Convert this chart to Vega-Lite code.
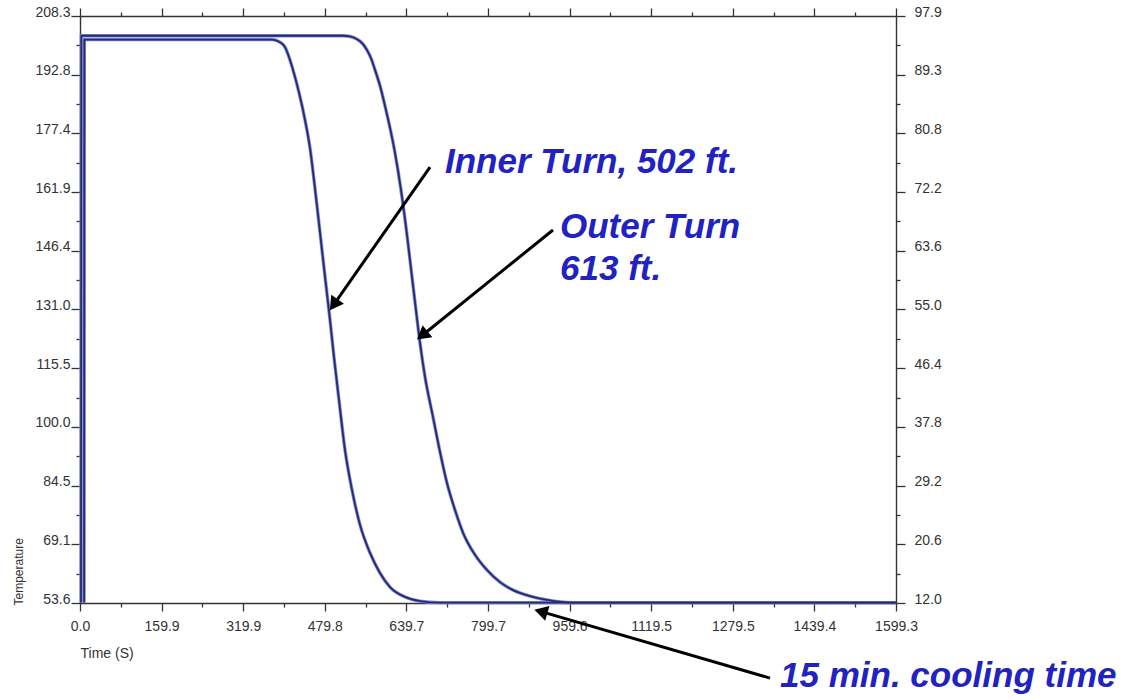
{
  "$schema": "https://vega.github.io/schema/vega-lite/v6.json",
  "width": 816,
  "height": 587,
  "autosize": {"type": "none"},
  "padding": {"left": 80, "top": 16, "right": 227, "bottom": 97},
  "background": "white",
  "config": {
    "view": {"stroke": null},
    "axis": {
      "labelFont": "Liberation Sans",
      "labelFontSize": 14,
      "labelColor": "#333333",
      "titleFont": "Liberation Sans",
      "titleFontWeight": "normal",
      "titleColor": "#333333",
      "domainColor": "#333333",
      "domainWidth": 1.4,
      "tickColor": "#333333",
      "tickWidth": 1.3,
      "grid": false
    }
  },
  "datasets": {
    "curves": [
      {"series": "Inner", "t": 8, "T": 53.7},
      {"series": "Inner", "t": 8.5, "T": 202.1},
      {"series": "Inner", "t": 200, "T": 202.1},
      {"series": "Inner", "t": 376.3, "T": 202.1},
      {"series": "Inner", "t": 392.0, "T": 201.4},
      {"series": "Inner", "t": 401.8, "T": 200.1},
      {"series": "Inner", "t": 409.6, "T": 197.5},
      {"series": "Inner", "t": 421.4, "T": 192.2},
      {"series": "Inner", "t": 431.2, "T": 187.0},
      {"series": "Inner", "t": 441.0, "T": 180.9},
      {"series": "Inner", "t": 450.8, "T": 173.5},
      {"series": "Inner", "t": 458.6, "T": 165.1},
      {"series": "Inner", "t": 466.5, "T": 155.9},
      {"series": "Inner", "t": 474.3, "T": 146.6},
      {"series": "Inner", "t": 482.1, "T": 137.4},
      {"series": "Inner", "t": 490.0, "T": 128.2},
      {"series": "Inner", "t": 497.8, "T": 118.4},
      {"series": "Inner", "t": 507.6, "T": 107.1},
      {"series": "Inner", "t": 519.4, "T": 93.9},
      {"series": "Inner", "t": 533.1, "T": 83.4},
      {"series": "Inner", "t": 548.8, "T": 74.2},
      {"series": "Inner", "t": 568.4, "T": 66.8},
      {"series": "Inner", "t": 588.0, "T": 61.5},
      {"series": "Inner", "t": 607.6, "T": 57.8},
      {"series": "Inner", "t": 637.0, "T": 55.2},
      {"series": "Inner", "t": 666.4, "T": 54.1},
      {"series": "Inner", "t": 705.6, "T": 53.7},
      {"series": "Inner", "t": 1000, "T": 53.7},
      {"series": "Inner", "t": 1599.3, "T": 53.7},
      {"series": "Outer", "t": 2, "T": 53.7},
      {"series": "Outer", "t": 2.5, "T": 203.1},
      {"series": "Outer", "t": 300, "T": 203.1},
      {"series": "Outer", "t": 515.5, "T": 203.1},
      {"series": "Outer", "t": 529.2, "T": 202.9},
      {"series": "Outer", "t": 542.9, "T": 202.2},
      {"series": "Outer", "t": 554.7, "T": 200.9},
      {"series": "Outer", "t": 562.5, "T": 199.3},
      {"series": "Outer", "t": 570.3, "T": 197.2},
      {"series": "Outer", "t": 578.2, "T": 194.1},
      {"series": "Outer", "t": 588.0, "T": 189.9},
      {"series": "Outer", "t": 597.8, "T": 184.6},
      {"series": "Outer", "t": 607.6, "T": 178.8},
      {"series": "Outer", "t": 617.4, "T": 172.2},
      {"series": "Outer", "t": 629.2, "T": 162.4},
      {"series": "Outer", "t": 640.9, "T": 150.6},
      {"series": "Outer", "t": 650.7, "T": 139.5},
      {"series": "Outer", "t": 658.5, "T": 130.8},
      {"series": "Outer", "t": 666.4, "T": 122.1},
      {"series": "Outer", "t": 676.2, "T": 113.2},
      {"series": "Outer", "t": 691.9, "T": 102.6},
      {"series": "Outer", "t": 705.6, "T": 93.4},
      {"series": "Outer", "t": 719.3, "T": 85.2},
      {"series": "Outer", "t": 735.0, "T": 78.1},
      {"series": "Outer", "t": 750.7, "T": 72.1},
      {"series": "Outer", "t": 774.2, "T": 66.3},
      {"series": "Outer", "t": 797.7, "T": 62.3},
      {"series": "Outer", "t": 823.2, "T": 59.1},
      {"series": "Outer", "t": 848.7, "T": 57.0},
      {"series": "Outer", "t": 882.0, "T": 55.4},
      {"series": "Outer", "t": 915.3, "T": 54.4},
      {"series": "Outer", "t": 966.3, "T": 53.7},
      {"series": "Outer", "t": 1200, "T": 53.7},
      {"series": "Outer", "t": 1599.3, "T": 53.7}
    ],
    "arrows": [
      {"id": "inner", "t1": 686, "T1": 168.5, "t2": 499.8, "T2": 132.7},
      {"id": "outer", "t1": 927, "T1": 151.9, "t2": 674.2, "T2": 124.5},
      {"id": "cool", "t1": 1352.4, "T1": 33.8, "t2": 907.5, "T2": 51.2}
    ],
    "labels": [
      {"text": "Inner Turn, 502 ft.", "t": 715.4, "T": 166.9},
      {"text": "Outer Turn", "t": 940.8, "T": 149.8},
      {"text": "613 ft.", "t": 940.8, "T": 138.7},
      {"text": "15 min. cooling time", "t": 1372, "T": 31.5}
    ]
  },
  "resolve": {"axis": {"x": "independent", "y": "independent"}},
  "layer": [
    {
      "data": {"name": "curves"},
      "mark": {"type": "line", "color": "#7f8cdc", "strokeWidth": 3.4, "interpolate": "monotone", "clip": false},
      "encoding": {
        "detail": {"field": "series"},
        "x": {
          "field": "t", "type": "quantitative",
          "scale": {"domain": [0, 1599.3], "nice": false, "zero": false},
          "axis": {
            "orient": "bottom",
            "title": "Time (S)",
            "titleFontSize": 14,
            "titleX": 0,
            "titleY": 50,
            "titleAlign": "left",
            "titleBaseline": "middle",
            "values": [0, 80, 159.9, 239.9, 319.9, 399.9, 479.8, 559.8, 639.7, 719.7, 799.7, 879.7, 959.6, 1039.6, 1119.5, 1199.5, 1279.5, 1359.5, 1439.4, 1519.4, 1599.3],
            "labelExpr": "indexof([0,159.9,319.9,479.8,639.7,799.7,959.6,1119.5,1279.5,1439.4,1599.3], datum.value) >= 0 ? format(datum.value, '.1f') : ''",
            "tickSize": {"condition": {"test": "indexof([0,159.9,319.9,479.8,639.7,799.7,959.6,1119.5,1279.5,1439.4,1599.3], datum.value) >= 0", "value": 8}, "value": 4},
            "labelPadding": 8,
            "labelFlush": false,
            "labelOverlap": false
          }
        },
        "y": {
          "field": "T", "type": "quantitative",
          "scale": {"domain": [53.6, 208.3], "nice": false, "zero": false},
          "axis": {
            "orient": "left",
            "title": "Temperature",
            "titleFontSize": 12,
            "titleX": -62,
            "titleY": 589,
            "titleAngle": -90,
            "titleAlign": "left",
            "titleBaseline": "middle",
            "values": [53.6, 61.35, 69.1, 76.8, 84.5, 92.25, 100.0, 107.75, 115.5, 123.25, 131.0, 138.7, 146.4, 154.15, 161.9, 169.65, 177.4, 185.1, 192.8, 200.55, 208.3],
            "labelExpr": "indexof([53.6,69.1,84.5,100,115.5,131,146.4,161.9,177.4,192.8,208.3], datum.value) >= 0 ? format(datum.value, '.1f') : ''",
            "tickSize": {"condition": {"test": "indexof([53.6,69.1,84.5,100,115.5,131,146.4,161.9,177.4,192.8,208.3], datum.value) >= 0", "value": 9}, "value": 4},
            "labelPadding": 1,
            "labelBaseline": "middle",
            "labelOffset": -4,
            "labelFlush": false,
            "labelOverlap": false
          }
        }
      }
    },
    {
      "data": {"name": "curves"},
      "mark": {"type": "line", "color": "#272b68", "strokeWidth": 1.8, "interpolate": "monotone", "clip": false},
      "encoding": {
        "detail": {"field": "series"},
        "x": {
          "field": "t", "type": "quantitative",
          "axis": {
            "orient": "top",
            "title": null,
            "labels": false,
            "values": [0, 80, 159.9, 239.9, 319.9, 399.9, 479.8, 559.8, 639.7, 719.7, 799.7, 879.7, 959.6, 1039.6, 1119.5, 1199.5, 1279.5, 1359.5, 1439.4, 1519.4, 1599.3],
            "tickSize": {"condition": {"test": "indexof([0,159.9,319.9,479.8,639.7,799.7,959.6,1119.5,1279.5,1439.4,1599.3], datum.value) >= 0", "value": 8}, "value": 4}
          }
        },
        "y": {
          "field": "T", "type": "quantitative",
          "axis": {
            "orient": "right",
            "title": null,
            "values": [53.6, 61.35, 69.1, 76.8, 84.5, 92.25, 100.0, 107.75, 115.5, 123.25, 131.0, 138.7, 146.4, 154.15, 161.9, 169.65, 177.4, 185.1, 192.8, 200.55, 208.3],
            "labelExpr": "indexof([53.6,69.1,84.5,100,115.5,131,146.4,161.9,177.4,192.8,208.3], datum.value) >= 0 ? format((datum.value - 32) * 5 / 9, '.1f') : ''",
            "tickSize": {"condition": {"test": "indexof([53.6,69.1,84.5,100,115.5,131,146.4,161.9,177.4,192.8,208.3], datum.value) >= 0", "value": 9}, "value": 4},
            "labelPadding": 9,
            "labelBaseline": "middle",
            "labelOffset": -4,
            "labelFlush": false,
            "labelOverlap": false
          }
        }
      }
    },
    {
      "data": {"name": "arrows"},
      "mark": {"type": "rule", "color": "#000000", "strokeWidth": 3, "clip": false},
      "encoding": {
        "x": {"field": "t1", "type": "quantitative", "axis": null},
        "y": {"field": "T1", "type": "quantitative", "axis": null},
        "x2": {"field": "t2"},
        "y2": {"field": "T2"}
      }
    },
    {
      "data": {"name": "arrows"},
      "transform": [{"filter": "datum.id === 'inner'"}],
      "mark": {"type": "point", "shape": "triangle", "filled": true, "color": "#000000", "opacity": 1, "size": 240, "angle": 215, "clip": false},
      "encoding": {
        "x": {"field": "t2", "type": "quantitative", "axis": null},
        "y": {"field": "T2", "type": "quantitative", "axis": null}
      }
    },
    {
      "data": {"name": "arrows"},
      "transform": [{"filter": "datum.id === 'outer'"}],
      "mark": {"type": "point", "shape": "triangle", "filled": true, "color": "#000000", "opacity": 1, "size": 240, "angle": 231, "clip": false},
      "encoding": {
        "x": {"field": "t2", "type": "quantitative", "axis": null},
        "y": {"field": "T2", "type": "quantitative", "axis": null}
      }
    },
    {
      "data": {"name": "arrows"},
      "transform": [{"filter": "datum.id === 'cool'"}],
      "mark": {"type": "point", "shape": "triangle", "filled": true, "color": "#000000", "opacity": 1, "size": 240, "angle": 286, "clip": false},
      "encoding": {
        "x": {"field": "t2", "type": "quantitative", "axis": null},
        "y": {"field": "T2", "type": "quantitative", "axis": null}
      }
    },
    {
      "data": {"name": "labels"},
      "mark": {"type": "text", "align": "left", "baseline": "alphabetic", "font": "Liberation Sans", "fontSize": 35, "fontWeight": "bold", "fontStyle": "italic", "color": "#2222c0", "clip": false},
      "encoding": {
        "x": {"field": "t", "type": "quantitative", "axis": null},
        "y": {"field": "T", "type": "quantitative", "axis": null},
        "text": {"field": "text"}
      }
    }
  ]
}
